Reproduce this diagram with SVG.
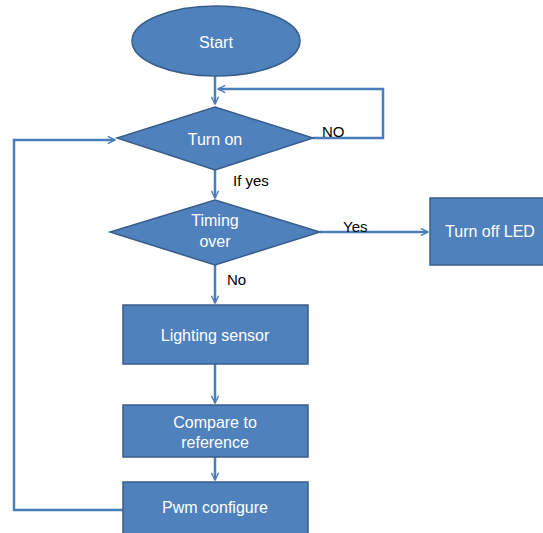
<svg xmlns="http://www.w3.org/2000/svg" width="543" height="533" viewBox="0 0 543 533">
<defs>
<marker id="ah" viewBox="0 0 10 10" refX="9" refY="5" markerWidth="9" markerHeight="9" markerUnits="userSpaceOnUse" orient="auto">
<path d="M1,1 L9,5 L1,9" fill="none" stroke="#4a7ebb" stroke-width="1.6"/>
</marker>
<style>
.n{fill:#4f81bd;stroke:#385d8a;stroke-width:1.5}
.t{fill:#fff;font-family:"Liberation Sans",Arial,sans-serif;font-size:16px;text-anchor:middle}
.l{fill:#000;font-family:"Liberation Sans",Arial,sans-serif;font-size:15px}
.c{fill:none;stroke:#4a7ebb;stroke-width:2.5;marker-end:url(#ah)}
</style>
</defs>
<rect width="543" height="533" fill="#fff"/>
<g id="connectors">
<path class="c" d="M215,76 V104"/>
<path class="c" d="M313,138 H383 V89 H218"/>
<path class="c" d="M215,170 V198"/>
<path class="c" d="M320,232 H428"/>
<path class="c" d="M215,265 V303"/>
<path class="c" d="M215,364 V403"/>
<path class="c" d="M215,457 V480"/>
<path class="c" d="M123,510 H14 V140 H115"/>
</g>
<g id="start"><ellipse class="n" cx="216" cy="41" rx="84" ry="35"/><text class="t" x="216" y="48">Start</text></g>
<g id="turnon"><polygon class="n" points="215,107 313,138 215,170 117,138"/><text class="t" x="215" y="145">Turn on</text></g>
<g id="timing"><polygon class="n" points="215,200 320,232 215,265 110,232"/><text class="t" x="215" y="226">Timing</text><text class="t" x="215" y="247">over</text></g>
<g id="turnoff"><rect class="n" x="430" y="198" width="115" height="67"/><text class="t" x="490" y="237">Turn off LED</text></g>
<g id="lighting"><rect class="n" x="123" y="305" width="185" height="59"/><text class="t" x="215" y="341">Lighting sensor</text></g>
<g id="compare"><rect class="n" x="123" y="405" width="185" height="52"/><text class="t" x="215" y="428">Compare to</text><text class="t" x="215" y="448">reference</text></g>
<g id="pwm"><rect class="n" x="123" y="482" width="185" height="55"/><text class="t" x="215" y="513">Pwm configure</text></g>
<g id="labels">
<text class="l" x="322" y="137">NO</text>
<text class="l" x="233" y="186">If yes</text>
<text class="l" x="343" y="232">Yes</text>
<text class="l" x="227" y="285">No</text>
</g>
</svg>
